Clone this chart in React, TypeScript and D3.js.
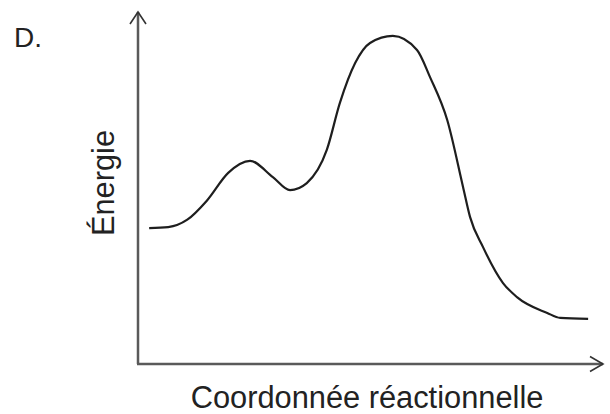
import * as d3 from "d3";

const W = 610;
const H = 414;

// reaction coordinate (0-100) and energy (0-100)
const coord = [2.4, 6.5, 10.6, 14.8, 19.4, 24.1, 29.0, 32.7, 36.3, 40.6, 43.4, 46.7, 49.9, 54.8, 60.0, 62.8, 66.5, 69.9, 71.4, 74.2, 78.5, 81.5, 88.0, 90.8, 96.8];
const energy = [38.6, 38.9, 41.0, 46.4, 54.3, 57.7, 53.1, 49.4, 51.4, 60.8, 74.1, 85.5, 91.2, 93.2, 89.2, 81.5, 69.3, 50.3, 41.8, 33.2, 23.0, 19.0, 14.5, 13.1, 12.8];

const xLabel = "Coordonnée réactionnelle";
const yLabel = "Énergie";
const panel = "D.";

const FONT = "'Liberation Sans', Arial, Helvetica, sans-serif";

export default function App() {
  const x = d3.scaleLinear().domain([0, 100]).range([138, 603]);
  const y = d3.scaleLinear().domain([0, 100]).range([364, 12]);

  const pts: [number, number][] = coord.map((c, i) => [c, energy[i]]);
  const line = d3
    .line<[number, number]>()
    .x((d) => x(d[0]))
    .y((d) => y(d[1]))
    .curve(d3.curveMonotoneX);

  const x0 = x(0);
  const y0 = y(0);
  const xEnd = x(100);
  const yEnd = y(100);
  const axisColor = "#5a5a5a";

  return (
    <svg
      width={W}
      height={H}
      style={{ position: "absolute", left: 0, top: 0, background: "#fff" }}
    >
      <text x={14} y={47} fontFamily={FONT} fontSize={28} fill="#222">
        {panel}
      </text>

      {/* axes */}
      <line x1={x0} y1={y0} x2={x0} y2={yEnd} stroke={axisColor} strokeWidth={2.5} />
      <line x1={x0 - 1} y1={y0} x2={xEnd} y2={y0} stroke={axisColor} strokeWidth={2.5} />
      <path
        d={`M${x0 - 8},${yEnd + 12} L${x0},${yEnd} L${x0 + 8},${yEnd + 12}`}
        fill="none"
        stroke="#333"
        strokeWidth={1.6}
      />
      <path
        d={`M${xEnd - 13},${y0 - 7.5} L${xEnd},${y0} L${xEnd - 13},${y0 + 7.5}`}
        fill="none"
        stroke="#333"
        strokeWidth={1.6}
      />

      <path d={line(pts) ?? ""} fill="none" stroke="#1e1e1e" strokeWidth={2.2} />

      <text
        x={367}
        y={408}
        textAnchor="middle"
        fontFamily={FONT}
        fontSize={30.8}
        fill="#222"
      >
        {xLabel}
      </text>
      <text
        transform="translate(114,183) rotate(-90)"
        textAnchor="middle"
        fontFamily={FONT}
        fontSize={30.8}
        fill="#222"
      >
        {yLabel}
      </text>
    </svg>
  );
}
